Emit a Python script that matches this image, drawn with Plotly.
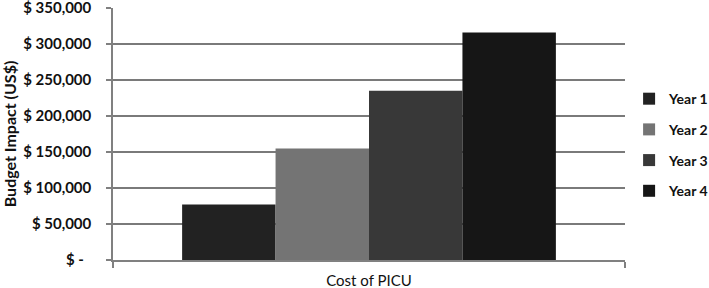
import plotly.graph_objects as go

categories = ["Cost of PICU"]
series_names = ["Year 1", "Year 2", "Year 3", "Year 4"]
series_values = [77000, 155000, 235000, 316000]
series_colors = ["#222222", "#747474", "#383838", "#161616"]
tick_vals = [0, 50000, 100000, 150000, 200000, 250000, 300000, 350000]
tick_text = ["$ -  ", "$ 50,000", "$ 100,000", "$ 150,000", "$ 200,000",
             "$ 250,000", "$ 300,000", "$ 350,000"]

fig = go.Figure()
for name, val, col in zip(series_names, series_values, series_colors):
    fig.add_trace(go.Bar(
        x=categories, y=[val], name=name,
        marker=dict(color=col, line=dict(width=0)),
        legendgroup=name,
    ))

ff = "Lato, 'Open Sans', sans-serif"
txt = "#111111"
axis_gray = "#808080"
fig.update_layout(
    width=709, height=288,
    margin=dict(l=113, r=84, t=8, b=28, autoexpand=False),
    paper_bgcolor="white", plot_bgcolor="white",
    barmode="group", bargap=0.27, bargroupgap=0,
    font=dict(family=ff, color=txt, size=15),
    showlegend=True,
    legend=dict(
        x=1.008, xanchor="left", y=0.456, yanchor="middle",
        font=dict(size=14, color=txt, family=ff, weight="bold"),
        tracegroupgap=9.5, itemwidth=30, bgcolor="rgba(0,0,0,0)",
    ),
    xaxis=dict(
        showline=True, linecolor=axis_gray, linewidth=1.5,
        ticks="outside", ticklen=6, tickcolor=axis_gray, tickwidth=1.5,
        tickson="boundaries", ticklabelstandoff=6,
        tickfont=dict(size=15, color=txt, family=ff),
        showgrid=False, zeroline=False,
    ),
    yaxis=dict(
        range=[0, 350000],
        tickvals=tick_vals, ticktext=tick_text,
        showgrid=True, gridcolor="#7a7a7a", gridwidth=1.5,
        showline=True, linecolor=axis_gray, linewidth=1.5,
        ticks="outside", ticklen=5, tickcolor=axis_gray, tickwidth=1.5,
        zeroline=False, ticklabelstandoff=12, ticklabeloverflow="allow",
        tickfont=dict(size=15, color=txt, family=ff, weight="bold"),
        title=dict(text="Budget Impact (US$)", standoff=10,
                   font=dict(size=16, color=txt, family=ff, weight="bold")),
    ),
)
fig.write_html("out.html", config={"displayModeBar": False},
               post_script="document.body.style.margin='0';document.body.style.overflow='hidden';")
